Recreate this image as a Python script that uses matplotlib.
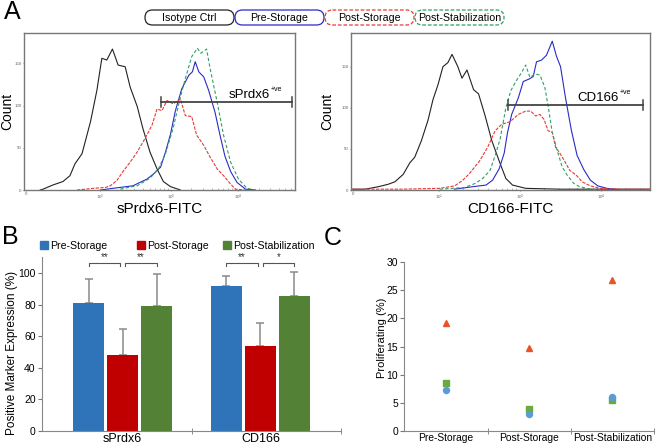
import numpy as np
import matplotlib
matplotlib.use('Agg')
import matplotlib.pyplot as plt
from matplotlib.patches import FancyBboxPatch, Rectangle

plt.rcParams['font.family'] = ['Liberation Sans', 'DejaVu Sans']
plt.rcParams['mathtext.default'] = 'regular'

# ---- panel A: flow histograms (x in display decades, y = count) ----
iso_L_x = [0.20, 0.24, 0.38, 0.52, 0.62, 0.69, 0.79, 0.91, 1.00, 1.07, 1.14, 1.22, 1.30,
           1.40, 1.47, 1.57, 1.65, 1.75, 1.85, 1.94, 2.04, 2.18]
iso_L_n = [0, 1, 6, 10, 17, 31, 43, 81, 118, 156, 154, 167, 148, 146, 122, 99, 73, 45,
           25, 10, 4, 0]
pre_L_x = [1.05, 1.23, 1.51, 1.71, 1.80, 1.90, 1.97, 2.04, 2.11, 2.20, 2.30, 2.35, 2.39,
           2.44, 2.51, 2.58, 2.67, 2.74, 2.81, 2.89, 2.98, 3.10, 3.24]
pre_L_n = [0, 2, 5, 13, 19, 27, 45, 66, 94, 120, 136, 140, 152, 140, 134, 118, 92, 65,
           40, 22, 9, 1, 0]
post_L_x = [0.72, 0.95, 1.12, 1.19, 1.28, 1.37, 1.47, 1.57, 1.68, 1.78, 1.85, 1.92, 1.99,
            2.08, 2.18, 2.25, 2.34, 2.41, 2.51, 2.60, 2.70, 2.79, 2.89, 2.96, 3.10]
post_L_n = [0, 2, 3, 5, 11, 22, 33, 45, 61, 77, 96, 94, 106, 102, 108, 88, 87, 65, 53,
            39, 25, 17, 7, 1, 0]
stab_L_x = [1.33, 1.57, 1.75, 1.87, 1.97, 2.08, 2.18, 2.25, 2.34, 2.42, 2.47, 2.55, 2.60,
            2.70, 2.79, 2.89, 3.00, 3.12, 3.24]
stab_L_n = [1, 5, 14, 25, 43, 74, 110, 132, 158, 168, 162, 167, 144, 104, 65, 33, 13, 2, 0]

iso_R_x = [0, 0.15, 0.31, 0.43, 0.51, 0.61, 0.69, 0.75, 0.83, 0.91, 0.97, 1.03, 1.09,
           1.15, 1.20, 1.27, 1.32, 1.38, 1.46, 1.52, 1.60, 1.68, 1.77, 1.85, 1.93, 2.09,
           2.50, 2.99, 3.59]
iso_R_n = [1, 1, 4, 7, 10, 19, 33, 40, 60, 85, 110, 128, 150, 155, 165, 150, 136, 146,
           122, 117, 90, 60, 35, 14, 6, 2, 1, 1, 1]
pre_R_x = [1.23, 1.45, 1.61, 1.69, 1.77, 1.83, 1.87, 1.92, 2.00, 2.06, 2.13, 2.18, 2.22,
           2.28, 2.34, 2.41, 2.46, 2.51, 2.57, 2.64, 2.71, 2.79, 2.87, 2.96, 3.07, 3.23]
pre_R_n = [1, 4, 6, 12, 26, 45, 70, 92, 112, 132, 135, 138, 156, 158, 164, 181, 163, 150,
           112, 73, 42, 25, 12, 5, 2, 0]
post_R_x = [0, 0.57, 1.05, 1.23, 1.32, 1.41, 1.53, 1.63, 1.72, 1.80, 1.90, 2.00, 2.09,
            2.15, 2.21, 2.26, 2.31, 2.36, 2.41, 2.45, 2.50, 2.56, 2.62, 2.70, 2.77, 2.87,
            2.99, 3.23, 3.59]
post_R_n = [1, 1, 2, 5, 11, 20, 35, 52, 72, 80, 83, 92, 96, 96, 90, 92, 86, 72, 70, 52,
            45, 35, 24, 18, 10, 5, 2, 1, 1]
stab_R_x = [1.05, 1.35, 1.48, 1.57, 1.66, 1.73, 1.78, 1.85, 1.91, 1.97, 2.04, 2.09, 2.14,
            2.20, 2.26, 2.32, 2.36, 2.41, 2.47, 2.53, 2.59, 2.67, 2.74, 2.87, 2.99]
stab_R_n = [1, 3, 8, 14, 24, 45, 62, 100, 121, 132, 143, 152, 137, 141, 140, 125, 102,
            70, 48, 28, 18, 8, 4, 1, 0]

gate_L = [1.90, 3.76, 104]
gate_R = [1.87, 3.51, 103]
ticks_L = [0, 1.047, 2.05, 3.0]
ticks_R = [0, 1.04, 2.02, 3.0]
tick_labels = ['0', '$10^2$', '$10^3$', '$10^4$']

legend_names = ['Isotype Ctrl', 'Pre-Storage', 'Post-Storage', 'Post-Stabilization']

# ---- panel B ----
markers = ['sPrdx6', 'CD166']
conditions = ['Pre-Storage', 'Post-Storage', 'Post-Stabilization']
pre_mean = [81.3, 92.1]
post_mean = [48.1, 53.8]
stab_mean = [79.2, 85.5]
pre_err = [14.8, 6.1]
post_err = [16.3, 14.8]
stab_err = [20.3, 15.1]
sig_left = ['**', '**']
sig_right = ['**', '*']

# ---- panel C ----
stages = ['Pre-Storage', 'Post-Storage', 'Post-Stabilization']
tri_vals = [19.2, 14.8, 26.9]
sq_vals = [8.5, 3.9, 5.4]
circ_vals = [7.3, 3.0, 5.95]

W, H = 656, 444
fig = plt.figure(figsize=(W / 100, H / 100), dpi=100)


def px_axes(l, t, r, b):
    return fig.add_axes([l / W, 1 - b / H, (r - l) / W, (b - t) / H])


hist_colors = ['#222222', '#2b2bc8', '#e83a3a', '#2fa062']
hist_styles = ['-', '-', (0, (3, 1.2)), (0, (3, 2))]


def draw_hist(ax, curves, ticks, xlim, ymax, gate, gate_label, gate_tx, xlabel, xl_x, yl_x):
    for (x, n), c, ls in zip(curves, hist_colors, hist_styles):
        ax.plot(x, n, color=c, lw=0.8, ls=ls)
    lo, hi, gy = gate
    ax.plot([lo, hi], [gy, gy], color='#444444', lw=1.3)
    ax.plot([lo, lo], [gy - 6, gy + 6], color='#444444', lw=1.1)
    ax.plot([hi, hi], [gy - 6, gy + 6], color='#444444', lw=1.1)
    ax.text(gate_tx, gy + 2, gate_label, ha='right', va='bottom', fontsize=9.5)
    ax.annotate('+ve', xy=(gate_tx, gy + 2), xytext=(0.5, 5.5), textcoords='offset points',
                ha='left', va='bottom', fontsize=5)
    ax.set_xlim(*xlim)
    ax.set_ylim(0, ymax)
    ax.set_xticks(ticks)
    ax.set_xticklabels(tick_labels)
    minor = []
    widths = np.diff(ticks[1:] + [ticks[-1] + (ticks[-1] - ticks[-2])])
    for start, w in zip(ticks[1:], widths):
        minor += [start + np.log10(k) * w for k in range(2, 10)]
    ax.set_xticks([m for m in minor if m < xlim[1]], minor=True)
    ax.set_yticks([0, 50, 100, 150])
    ax.tick_params(labelsize=3.2, labelcolor='#666666', length=1, width=0.5,
                   color='#666666', pad=0.7)
    ax.tick_params(which='minor', length=1.2, width=0.4, color='#888888', direction='in')
    for s in ax.spines.values():
        s.set_color('#777777')
        s.set_linewidth(1.0)
    ax.set_xlabel(xlabel, fontsize=11)
    ax.xaxis.set_label_coords(xl_x, -0.075)
    ax.set_ylabel('Count', fontsize=10)
    ax.yaxis.set_label_coords(yl_x, 0.5)


axL = px_axes(24, 33, 295, 190)
draw_hist(axL, [(iso_L_x, iso_L_n), (pre_L_x, pre_L_n), (post_L_x, post_L_n),
                (stab_L_x, stab_L_n)],
          ticks_L, (-0.03, 3.80), 186, gate_L, 'sPrdx6', 3.45,
          'sPrdx6-FITC', 0.5, -0.036)
axR = px_axes(351, 33, 650, 190)
draw_hist(axR, [(iso_R_x, iso_R_n), (pre_R_x, pre_R_n), (post_R_x, post_R_n),
                (stab_R_x, stab_R_n)],
          ticks_R, (-0.02, 3.59), 191, gate_R, 'CD166', 3.21,
          'CD166-FITC', 0.532, -0.055)

# overlay in pixel units for legends
lg = fig.add_axes([0, 0, 1, 1])
lg.set_xlim(0, W)
lg.set_ylim(H, 0)
lg.axis('off')
for i, (name, c, ls) in enumerate(zip(legend_names, hist_colors, hist_styles)):
    x0 = 145 + i * 90
    lg.add_patch(FancyBboxPatch((x0, 10), 89, 15, boxstyle='round,pad=0,rounding_size=7.5',
                                fc='white', ec=c, lw=0.9, ls='-' if i < 2 else (0, (3, 1.5))))
    lg.text(x0 + 44.5, 17.8, name, ha='center', va='center', fontsize=7.7)

# ---- panel B bars ----
axB = px_axes(42, 257.4, 341, 430.7)
bw, off = 0.225, 0.246
colorsB = ['#2f74b8', '#c00000', '#538135']
gx = np.arange(len(markers))
for k, (m, e, c) in enumerate(zip([pre_mean, post_mean, stab_mean],
                                  [pre_err, post_err, stab_err], colorsB)):
    xs = gx + (k - 1) * off
    axB.bar(xs, m, width=bw, color=c, zorder=2)
    axB.errorbar(xs, m, yerr=[np.zeros(len(e)), e], fmt='none', ecolor='#8a8a8a',
                 elinewidth=1.1, capsize=3, capthick=1.1, zorder=1)
for g in range(len(markers)):
    for a, b, s in [(g - off, g - 0.02, sig_left[g]), (g + 0.02, g + off, sig_right[g])]:
        axB.plot([a, a, b, b], [104.5, 106.6, 106.6, 104.5], color='#555555', lw=0.8)
        axB.text((a + b) / 2, 106.9, s, ha='center', va='bottom', fontsize=7, color='#333333')
axB.set_xlim(-0.585, 1.585)
axB.set_ylim(0, 110)
axB.set_yticks([0, 20, 40, 60, 80, 100])
axB.set_xticks(gx)
axB.set_xticklabels(markers, fontsize=9)
axB.set_xticks([0.5, 1.585], minor=True)
axB.tick_params(axis='x', which='major', length=0, pad=2)
axB.tick_params(axis='x', which='minor', length=4, direction='inout', color='#777777')
axB.tick_params(axis='y', labelsize=7.5, length=3, color='#777777', pad=1.5)
for s in ['top', 'right']:
    axB.spines[s].set_visible(False)
for s in ['left', 'bottom']:
    axB.spines[s].set_color('#888888')
axB.set_ylabel('Positive Marker Expression (%)', fontsize=8.5)
axB.yaxis.set_label_coords(-0.08, 0.45)

# bar legend (squares + names) above panel B
for c, name, lx in zip(colorsB, conditions, [40, 137, 223]):
    lg.add_patch(Rectangle((lx, 241), 8, 8, color=c))
    lg.text(lx + 10.5, 245.5, name, ha='left', va='center', fontsize=7.6)

# ---- panel C scatter ----
axC = px_axes(404.3, 262.3, 654, 430.7)
sx = np.arange(len(stages))
axC.plot(sx, tri_vals, '^', color='#e8542a', ms=4.5, ls='none')
axC.plot(sx, sq_vals, 's', color='#6aab3e', ms=4, ls='none')
axC.plot(sx, circ_vals, 'o', color='#5b9bd8', ms=4.3, ls='none')
axC.set_xlim(-0.5, 2.5)
axC.set_ylim(0, 30)
axC.set_yticks([0, 5, 10, 15, 20, 25, 30])
axC.set_xticks(sx)
axC.set_xticklabels(stages, fontsize=7.4)
axC.set_xticks([0.5, 1.5, 2.5], minor=True)
axC.tick_params(axis='x', which='major', length=0, pad=2)
axC.tick_params(axis='x', which='minor', length=4, direction='inout', color='#777777')
axC.tick_params(axis='y', labelsize=7.5, length=3, color='#777777', pad=1.5)
for s in ['top', 'right']:
    axC.spines[s].set_visible(False)
for s in ['left', 'bottom']:
    axC.spines[s].set_color('#888888')
axC.set_ylabel('Proliferating (%)', fontsize=8)
axC.yaxis.set_label_coords(-0.07, 0.55)

# panel letters
fig.text(4 / W, 1 - 0 / H, 'A', fontsize=18, va='top', ha='left')
fig.text(2 / W, 1 - 225 / H, 'B', fontsize=18, va='top', ha='left')
fig.text(324 / W, 1 - 226 / H, 'C', fontsize=18, va='top', ha='left')

fig.savefig('out.png', dpi=100)
